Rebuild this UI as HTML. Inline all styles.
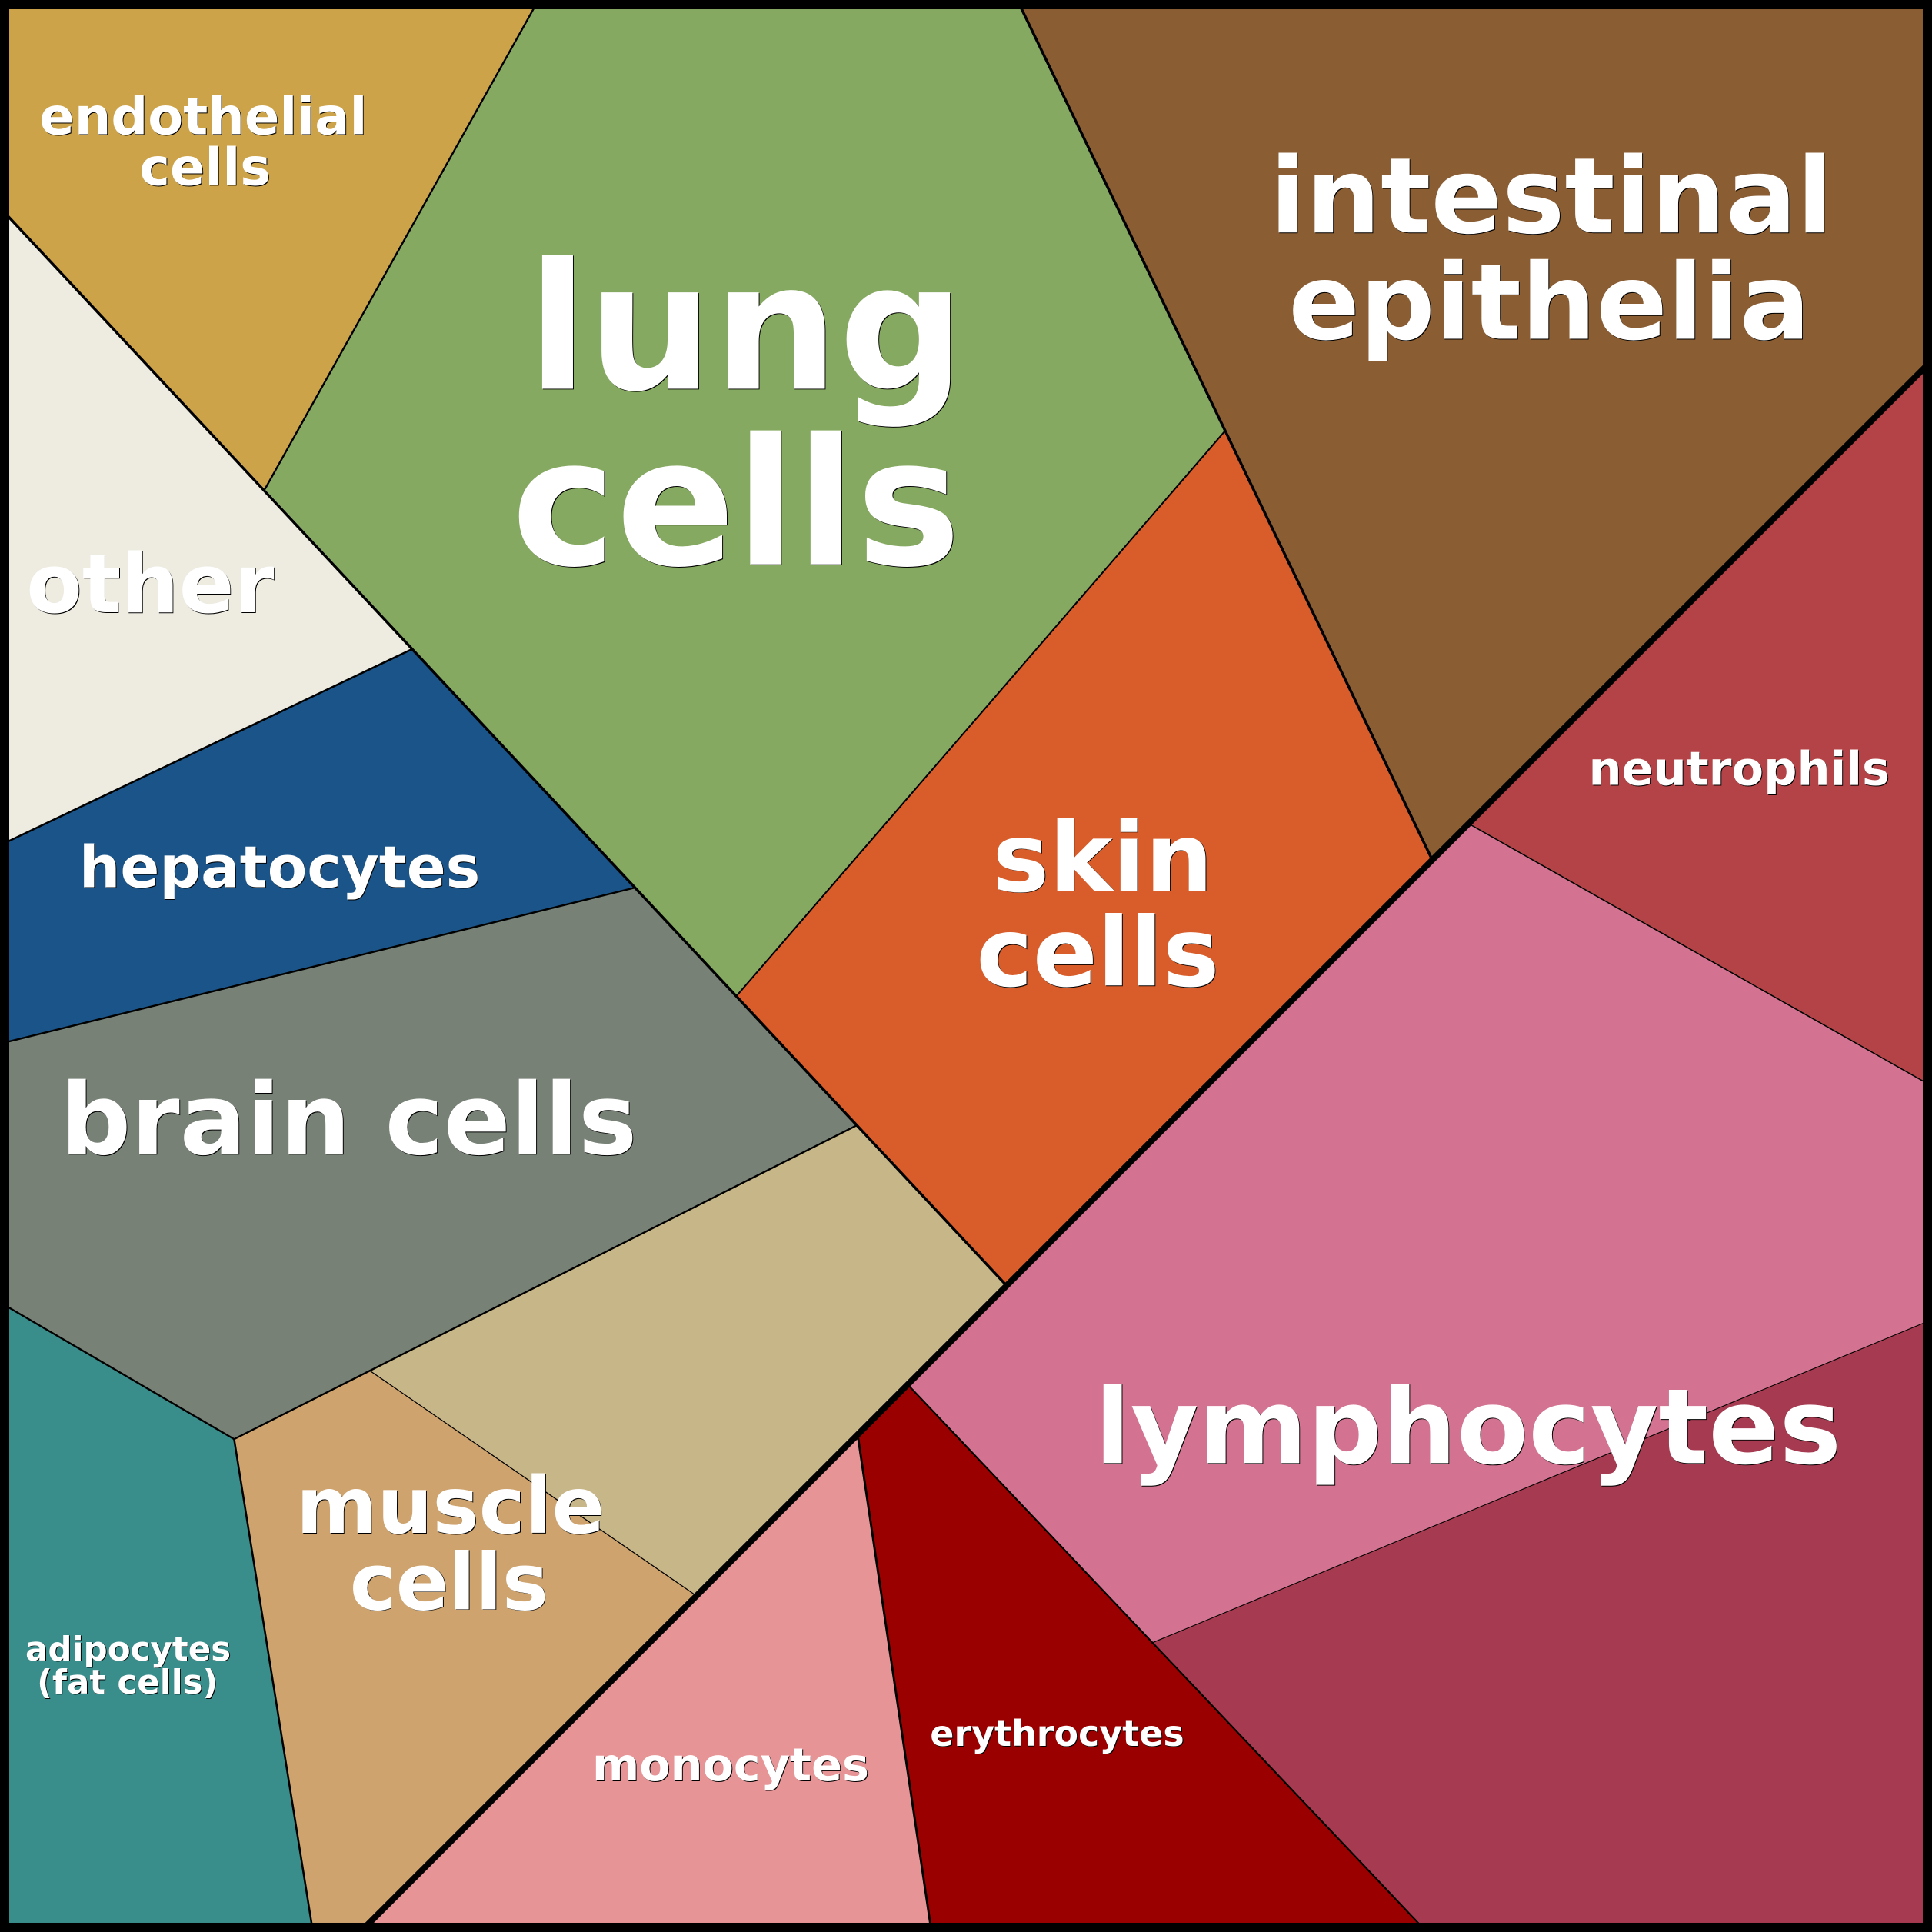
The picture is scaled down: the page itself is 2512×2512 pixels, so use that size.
<!DOCTYPE html>
<html><head><meta charset="utf-8"><style>
html,body{margin:0;padding:0;background:#fff}
svg{display:block}
text{font-family:"DejaVu Sans",sans-serif;font-weight:700;text-anchor:middle}
.w text{fill:#fff}
.s text{fill:#000}
</style></head><body>
<svg xmlns="http://www.w3.org/2000/svg" width="2512" height="2512" viewBox="0 0 1568 1568">
<g stroke="none">
<polygon fill="#cda349" points="0,0 437,0 215,397 0,168"/>
<polygon fill="#86a961" points="437,0 826,0 994,350 598,808 215,397"/>
<polygon fill="#8a5d33" points="826,0 1568,0 1568,292 1162,698 994,350"/>
<polygon fill="#d95d2b" points="994,350 1162,698 817,1043 598,808"/>
<polygon fill="#eeece1" points="0,168 334,527 0,686"/>
<polygon fill="#1a5488" points="0,686 334,527 515,720 0,847"/>
<polygon fill="#778176" points="0,847 515,720 695,913 190,1168 0,1057"/>
<polygon fill="#c7b688" points="695,913 817,1043 565,1295 300,1112"/>
<polygon fill="#cea36d" points="190,1168 300,1112 565,1295 292,1568 254,1568"/>
<polygon fill="#398d8b" points="0,1057 190,1168 254,1568 0,1568"/>
<polygon fill="#e79497" points="292,1568 696,1164 756,1568"/>
<polygon fill="#9a0000" points="696,1164 737,1123 1159,1568 756,1568"/>
<polygon fill="#d37391" points="737,1123 1192,668 1568,881 1568,1071 935,1333"/>
<polygon fill="#b34346" points="1192,668 1568,292 1568,881"/>
<polygon fill="#a53a50" points="935,1333 1568,1071 1568,1568 1159,1568"/>
</g>
<g stroke="#000" fill="none">
<line x1="0" y1="168.5" x2="817" y2="1043.5" stroke-width="2.2"/>
<line x1="437" y1="0" x2="215" y2="397" stroke-width="1.5"/>
<line x1="825.6" y1="0" x2="1162" y2="697" stroke-width="2.2"/>
<line x1="994" y1="350" x2="598" y2="808" stroke-width="1.3"/>
<line x1="0" y1="686" x2="334" y2="527" stroke-width="1.6"/>
<line x1="0" y1="847" x2="515" y2="720.5" stroke-width="1.5"/>
<polyline points="0,1057 190,1168 695,913.5" stroke-width="1.5"/>
<line x1="299.5" y1="1112" x2="565" y2="1295" stroke-width="0.8"/>
<line x1="190" y1="1168" x2="254" y2="1568" stroke-width="1.6"/>
<line x1="696" y1="1164" x2="756" y2="1568" stroke-width="1.8"/>
<line x1="736" y1="1123" x2="1158" y2="1568" stroke-width="1.4"/>
<line x1="1192" y1="668.5" x2="1568" y2="881.5" stroke-width="1"/>
<line x1="934.5" y1="1333.5" x2="1568" y2="1071" stroke-width="0.7"/>
</g>
<line x1="292" y1="1568.4" x2="1568" y2="292.4" stroke="#000" stroke-width="5"/>
<rect x="3.75" y="3.75" width="1560.5" height="1560.5" fill="none" stroke="#000" stroke-width="7.5"/>
<g class="s" transform="translate(0.6 0.6)">
<text font-size="41.8" x="165" y="109">endothelial</text>
<text font-size="41.8" x="166.5" y="150">cells</text>
<text font-size="143" x="605.5" y="315.5">lung</text>
<text font-size="143" x="597.5" y="458">cells</text>
<text font-size="85.3" x="1259" y="188.7">intestinal</text>
<text font-size="85.3" x="1257.5" y="275">epithelia</text>
<text font-size="66" x="122" y="497">other</text>
<text font-size="46.9" x="227" y="720">hepatocytes</text>
<text font-size="77.3" x="895" y="723">skin</text>
<text font-size="77.3" x="891" y="800">cells</text>
<text font-size="37.8" x="1411.5" y="637">neutrophils</text>
<text font-size="80.2" x="283" y="936.5">brain cells</text>
<text font-size="84.8" x="1191.5" y="1187.5">lymphocytes</text>
<text font-size="63.2" x="365.5" y="1244">muscle</text>
<text font-size="63.2" x="364.5" y="1306">cells</text>
<text font-size="27.2" x="104" y="1347.5">adipocytes</text>
<text font-size="27.2" x="103.5" y="1374.5">(fat cells)</text>
<text font-size="36.7" x="593" y="1445">monocytes</text>
<text font-size="28.7" x="858" y="1417">erythrocytes</text>
</g>
<g class="w">
<text font-size="41.8" x="165" y="109">endothelial</text>
<text font-size="41.8" x="166.5" y="150">cells</text>
<text font-size="143" x="605.5" y="315.5">lung</text>
<text font-size="143" x="597.5" y="458">cells</text>
<text font-size="85.3" x="1259" y="188.7">intestinal</text>
<text font-size="85.3" x="1257.5" y="275">epithelia</text>
<text font-size="66" x="122" y="497">other</text>
<text font-size="46.9" x="227" y="720">hepatocytes</text>
<text font-size="77.3" x="895" y="723">skin</text>
<text font-size="77.3" x="891" y="800">cells</text>
<text font-size="37.8" x="1411.5" y="637">neutrophils</text>
<text font-size="80.2" x="283" y="936.5">brain cells</text>
<text font-size="84.8" x="1191.5" y="1187.5">lymphocytes</text>
<text font-size="63.2" x="365.5" y="1244">muscle</text>
<text font-size="63.2" x="364.5" y="1306">cells</text>
<text font-size="27.2" x="104" y="1347.5">adipocytes</text>
<text font-size="27.2" x="103.5" y="1374.5">(fat cells)</text>
<text font-size="36.7" x="593" y="1445">monocytes</text>
<text font-size="28.7" x="858" y="1417">erythrocytes</text>
</g>
</svg>
</body></html>
